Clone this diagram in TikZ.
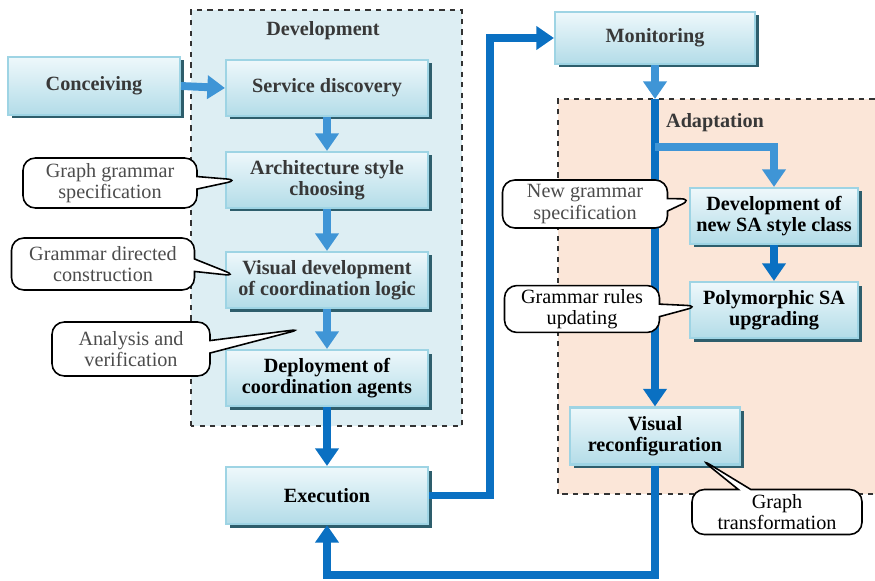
\documentclass[tikz,border=0pt]{standalone}
\usepackage{fontspec}
\setmainfont{Liberation Serif}
\usepackage{xcolor}
\usepackage{tikz}
\usetikzlibrary{shapes.geometric, shapes.callouts, arrows.meta, shadows, positioning, calc}
\definecolor{boxtop}{HTML}{EEF8FB}
\definecolor{boxbottom}{HTML}{B3DCE8}
\definecolor{boxborder}{HTML}{9ED4E4}
\definecolor{boxshadow}{HTML}{2E5E6C}
\definecolor{devfill}{HTML}{DDEEF3}
\definecolor{adaptfill}{HTML}{FBE6D8}
\definecolor{flowlight}{HTML}{3F95D6}
\definecolor{flowdark}{HTML}{0A70C2}
\definecolor{labelgray}{HTML}{383838}
\newcommand{\diagfont}{\fontsize{11.5}{12.2}\selectfont}
\tikzstyle{process} = [rectangle, draw=boxborder, line width=1.2pt, top color=boxtop, bottom color=boxbottom, drop shadow={shadow xshift=0.07cm, shadow yshift=-0.07cm, fill=boxshadow, opacity=1}, font=\diagfont\bfseries, align=center, inner sep=1pt]
\tikzstyle{note} = [rectangle callout, draw=black, line width=0.9pt, fill=white, rounded corners=7pt, font=\diagfont, text=black!70, align=center, inner sep=2pt]
\tikzstyle{region} = [draw=black!80, dashed, line width=0.8pt]
\tikzstyle{arrow} = [line width=4.5pt, -{Triangle[width=13pt, length=10pt]}]

\begin{document}
\begin{tikzpicture}
		\useasboundingbox (0,0) rectangle (17.5,11.6);
		\coordinate (conceiving) at (1.88,9.88);
		\coordinate (service) at (6.54,9.84);
		\coordinate (archstyle) at (6.54,8.0);
		\coordinate (visdev) at (6.54,6.0);
		\coordinate (deploy) at (6.54,4.04);
		\coordinate (execution) at (6.54,1.69);
		\coordinate (monitoring) at (13.1,10.84);
		\coordinate (devsa) at (15.48,7.28);
		\coordinate (poly) at (15.48,5.4);
		\coordinate (visrec) at (13.1,2.88);
		\coordinate (adaptin) at (13.1,9.62);
		\coordinate (split) at (13.1,8.66);
		\coordinate (loopback) at (13.1,0.1);
		% Dashed regions
		\filldraw[region, fill=devfill] (3.82,3.08) rectangle (9.24,11.4);
		\filldraw[region, fill=adaptfill] (11.16,1.72) rectangle (17.8,9.62);
		\node[name=devlabel, font=\diagfont\bfseries, text=labelgray] at (6.46,10.98) {Development};
		\node[name=adaptlabel, font=\diagfont\bfseries, text=labelgray] at (14.3,9.14) {Adaptation};
		% Development steps
		\begin{scope}[every node/.style={process, text=labelgray, minimum width=4.04cm, minimum height=1.12cm}]
		\node[name=conceiving, minimum width=3.44cm, minimum height=1.16cm] at (conceiving) {Conceiving};
		\node[name=service] at (service) {Service discovery};
		\node[name=archstyle] at (archstyle) {Architecture style\\choosing};
		\node[name=visdev] at (visdev) {Visual development\\of coordination logic};
		\node[name=deploy, text=black] at (deploy) {Deployment of\\coordination agents};
		\node[name=execution, text=black, minimum height=1.14cm] at (execution) {Execution};
		\node[name=monitoring, minimum width=4.0cm, minimum height=1.04cm] at (monitoring) {Monitoring};
		\end{scope}
		% Adaptation steps
		\begin{scope}[every node/.style={process, text=black, minimum width=3.36cm, minimum height=1.12cm}]
		\node[name=devsa] at (devsa) {Development of\\new SA style class};
		\node[name=poly] at (poly) {Polymorphic SA\\upgrading};
		\node[name=visrec, minimum width=3.4cm, minimum height=1.14cm] at (visrec) {Visual\\reconfiguration};
		\end{scope}
		% Flow
		\draw [arrow, flowlight] (conceiving.east)--(service.west);
		\draw [arrow, flowlight] (service.south)--(archstyle.north);
		\draw [arrow, flowlight] (archstyle.south)--(visdev.north);
		\draw [arrow, flowlight] (visdev.south)--(deploy.north);
		\draw [arrow, flowdark] (deploy.south)--(execution.north);
		\draw [arrow, flowdark] (execution.east) -| ($(monitoring.west)+(-1.28,0)$) -- (monitoring.west);
		\draw [arrow, flowlight] (monitoring.south)--(adaptin);
		\draw [arrow, flowdark] (adaptin)--(visrec.north);
		\draw [arrow, flowlight] (split) -| (devsa.north);
		\draw [arrow, flowdark] (devsa.south)--(poly.north);
		\draw [arrow, flowdark] (visrec.south) -- (loopback) -| (execution.south);
		% Callouts
		\node[note, name=ggspec, minimum width=3.48cm, minimum height=1.0cm, callout absolute pointer={($(archstyle.west)+(0.28,0)$)}] at (2.2,7.94) {Graph grammar\\specification};
		\node[note, name=gdconstr, minimum width=3.66cm, minimum height=1.04cm, callout absolute pointer={($(visdev.west)+(0.24,0.08)$)}] at (2.06,6.32) {Grammar directed\\construction};
		\node[note, name=analysis, minimum width=3.16cm, minimum height=1.08cm, callout absolute pointer={($($(visdev.south)!0.5!(deploy.north)$)+(-0.5,0)$)}] at (2.62,4.62) {Analysis and\\verification};
		\node[note, name=newgram, minimum width=3.3cm, minimum height=0.96cm, callout absolute pointer={($(devsa.west)+(0.08,0.34)$)}] at (11.7,7.52) {New grammar\\specification};
		\node[note, name=rulesupd, minimum width=3.1cm, minimum height=0.92cm, text=black, callout absolute pointer={($(poly.west)+(0.2,0.08)$)}] at (11.64,5.42) {Grammar rules\\updating};
		\node[note, name=graphtrans, minimum width=3.4cm, minimum height=0.9cm, text=black, callout absolute pointer={($(visrec.south)+(0.9,0.14)$)}] at (15.54,1.36) {Graph\\transformation};
\end{tikzpicture}
\end{document}
